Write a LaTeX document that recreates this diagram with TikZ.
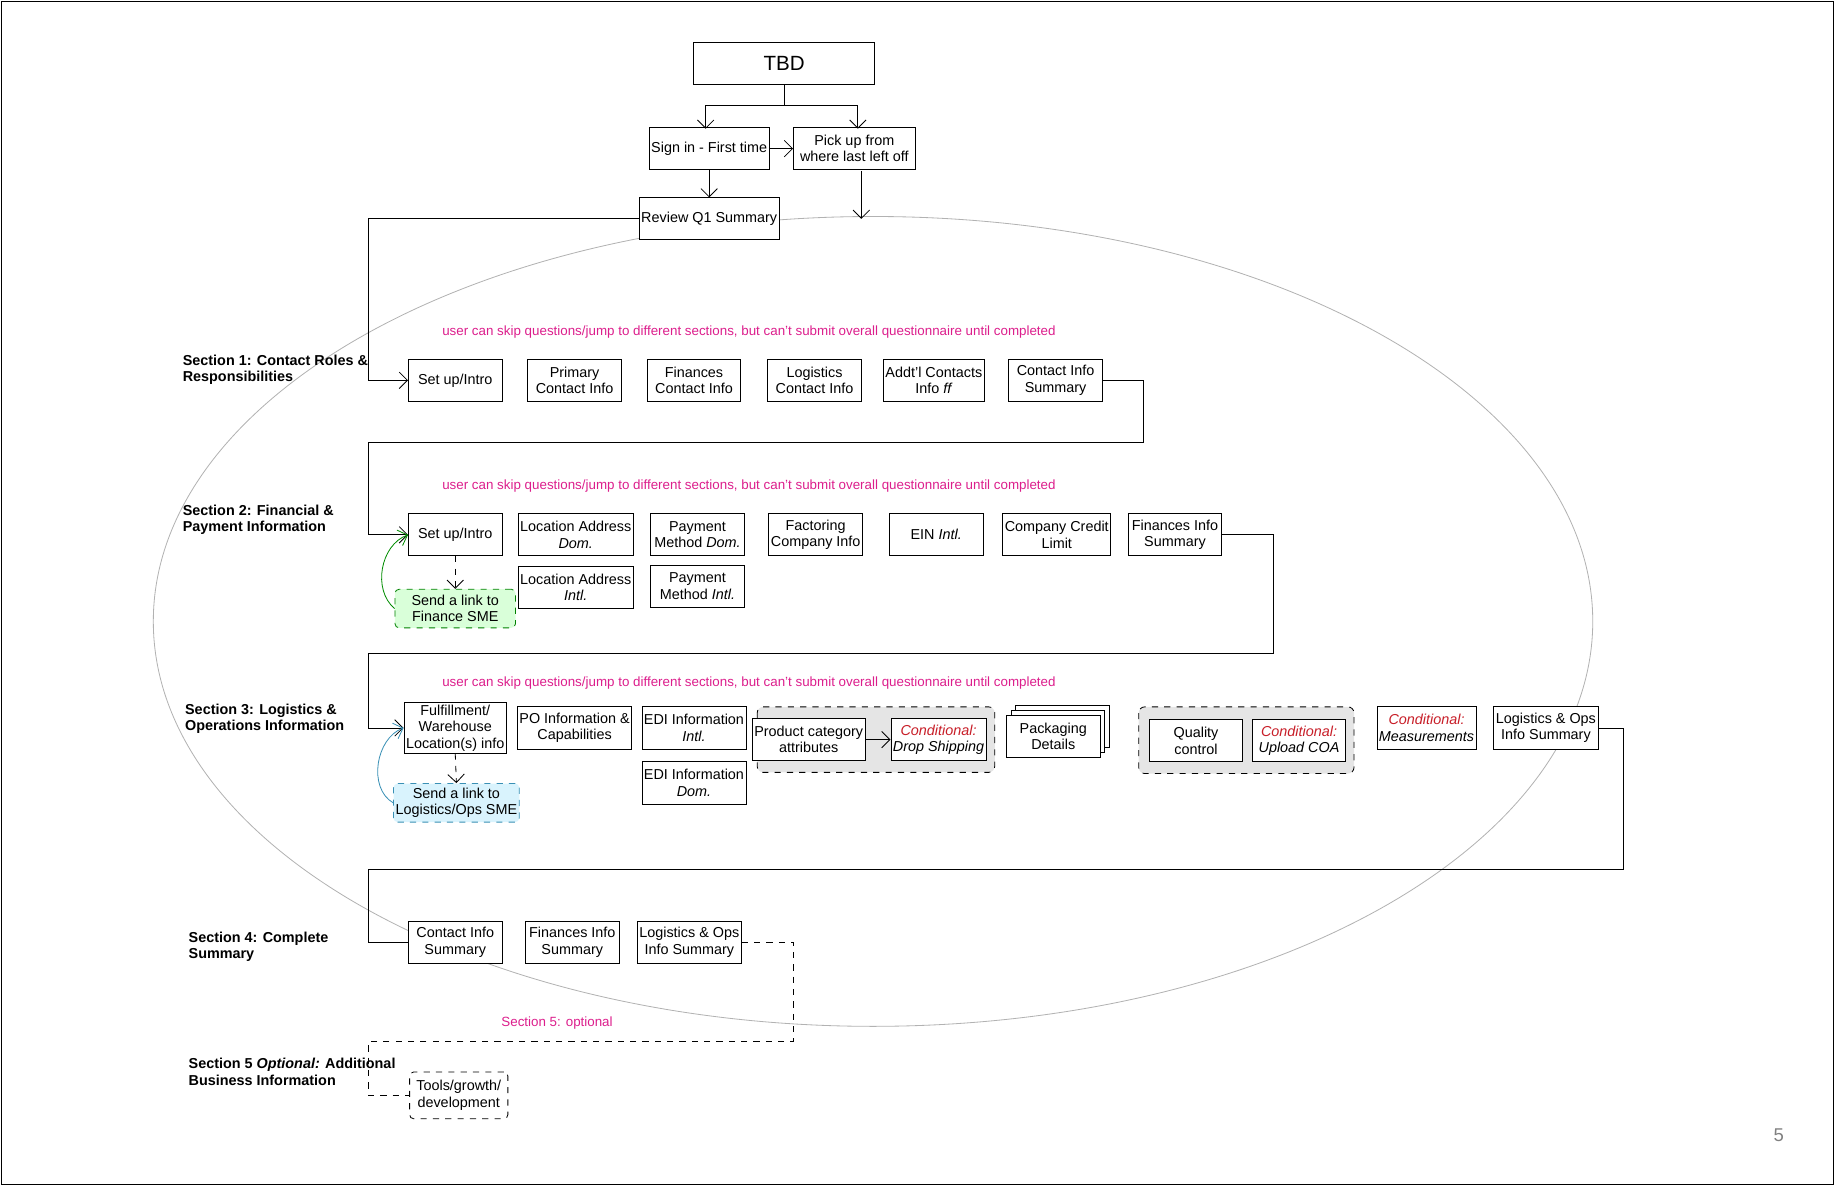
\documentclass[tikz,border=0pt]{standalone}
\usepackage{fontspec}
\setmainfont{Liberation Sans}
\usetikzlibrary{arrows.meta}
\definecolor{magtext}{RGB}{220,30,140}
\definecolor{condred}{RGB}{200,30,40}
\begin{document}
\begin{tikzpicture}[x=0.02cm, y=-0.02cm, >={Straight Barb[length=4pt]}, thin]
\tikzset{
  box/.style={draw, fill=white, minimum width=1.6cm, minimum height=0.72cm, inner sep=1pt, align=center, font=\fontsize{7}{8}\selectfont},
  smebox/.style={box, dashed, rounded corners=2pt, minimum width=2.06cm, minimum height=0.66cm},
  group/.style={draw, dashed, fill=gray!20, rounded corners=3pt},
  note/.style={text=magtext, font=\fontsize{6.5}{7}\selectfont},
  sect/.style={anchor=west, align=left, font=\bfseries\fontsize{7}{8}\selectfont},
  cond/.style={text=condred}
}
\useasboundingbox (0,0) rectangle (1568,1013);
\draw (1,1) rectangle (1567,1012);
% outer loop
\draw[gray!60] (746,531) ellipse [x radius=615, y radius=346];
% top
\node[box, minimum width=3.1cm, font=\fontsize{10}{12}\selectfont] (tbd) at (670,54) {TBD};
\node[box, minimum width=2.06cm] (signin) at (606,127) {Sign in - First time};
\node[box, minimum width=2.08cm] (pickup) at (730,127) {Pick up from\\where last left off};
\node[box, minimum width=2.06cm] (review) at (606,187) {Review Q1 Summary};
\coordinate (loopin) at (736,187);
\draw (tbd.south) -- (670,90) coordinate (split);
\draw[->] (split) -| (603,110);
\draw[->] (split) -| (733,110);
\draw[->] (signin) -- (pickup);
\draw[->] (signin.south) -- (review.north);
\draw[->] (736,146) -- (loopin);
% section labels
\node[sect] at (150,316) {Section 1: Contact Roles \&\\Responsibilities};
\node[sect] at (150,444) {Section 2: Financial \&\\Payment Information};
\node[sect] at (152,614) {Section 3: Logistics \&\\Operations Information};
\node[sect] at (155,809) {Section 4: Complete\\Summary};
\node[sect] at (155,916) {Section 5 \textit{Optional:} Additional\\Business Information};
% notes
\node[note] at (640,284) {user can skip questions/jump to different sections, but can't submit overall questionnaire until completed};
\node[note] at (640,415) {user can skip questions/jump to different sections, but can't submit overall questionnaire until completed};
\node[note] at (640,584) {user can skip questions/jump to different sections, but can't submit overall questionnaire until completed};
\node[note] at (476,874) {Section 5: optional};
% section 1
\node[box] (s1a) at (389,325) {Set up/Intro};
\node[box] (s1b) at (491,325) {Primary\\Contact Info};
\node[box] (s1c) at (593,325) {Finances\\Contact Info};
\node[box] (s1d) at (696,325) {Logistics\\Contact Info};
\node[box] (s1e) at (798,325) {Addt'l Contacts\\Info \textit{ff}};
\node[box] (s1f) at (902,325) {Contact Info\\Summary};
\draw[->] (review.west) -| (315,325) -- (s1a.west);
% section 2
\node[box] (s2a) at (389,457) {Set up/Intro};
\node[box] (s2b) at (492,457) {Location Address\\\textit{Dom.}};
\node[box] (s2c) at (596,457) {Payment\\Method \textit{Dom.}};
\node[box] (s2d) at (697,457) {Factoring\\Company Info};
\node[box] (s2e) at (800,457) {EIN \textit{Intl.}};
\node[box] (s2f) at (903,457) {Company Credit\\Limit};
\node[box] (s2g) at (1004,457) {Finances Info\\Summary};
\node[box] (s2h) at (492,502) {Location Address\\\textit{Intl.}};
\node[box] (s2i) at (596,501) {Payment\\Method \textit{Intl.}};
\node[smebox, draw=green!50!black, fill=green!15] (s2sme) at (389,520) {Send a link to\\Finance SME};
\draw[->] (s1f.east) -- (977,325) |- (315,378) |- (s2a.west);
\draw[->, dashed] (s2a.south) -- (s2sme.north);
\draw[->, green!55!black] (s2sme.west) to[out=140, in=200] (s2a.west);
% section 3
\node[box] (s3a) at (389,622) {Fulfillment/\\Warehouse\\Location(s) info};
\node[box] (s3b) at (491,622) {PO Information \&\\Capabilities};
\node[box] (s3c) at (593,622) {EDI Information\\\textit{Intl.}};
\node[box] (s3d) at (593,669) {EDI Information\\\textit{Dom.}};
\draw[group] (647,604) rectangle (850,660);
\node[box] (s3e) at (691,632) {Product category\\attributes};
\node[box] (s3f) at (802,632) {\textit{\textcolor{condred}{Conditional:}}\\\textit{Drop Shipping}};
\draw[->] (s3e) -- (s3f);
\draw[fill=white] (868,603) rectangle (948,639);
\draw[fill=white] (864,607) rectangle (944,643);
\node[box] (s3g) at (900,629) {Packaging\\Details};
\draw[group] (973,604) rectangle (1157,661);
\node[box] (s3h) at (1022,633) {Quality\\control};
\node[box] (s3i) at (1110,633) {\textit{\textcolor{condred}{Conditional:}}\\\textit{Upload COA}};
\node[box] (s3j) at (1219,622) {\textit{\textcolor{condred}{Conditional:}}\\\textit{Measurements}};
\node[box] (s3k) at (1321,622) {Logistics \& Ops\\Info Summary};
\node[smebox, draw=cyan!70!black, fill=cyan!15] (s3sme) at (390,686) {Send a link to\\Logistics/Ops SME};
\draw[->] (s2g.east) -- (1088,457) |- (315,558) |- (s3a.west);
\draw[->, dashed] (s3a.south) -- (s3sme.north);
\draw[->, cyan!70!black] (s3sme.west) to[out=150, in=200] (s3a.west);
% section 4
\node[box] (s4a) at (389,805) {Contact Info\\Summary};
\node[box] (s4b) at (489,805) {Finances Info\\Summary};
\node[box] (s4c) at (589,805) {Logistics \& Ops\\Info Summary};
\draw (s3k.east) -- (1387,622) |- (315,743) |- (s4a.west);
% section 5
\node[box, dashed, rounded corners=2pt, minimum width=1.68cm, minimum height=0.8cm] (s5a) at (392,936) {Tools/growth/\\development};
\draw[dashed] (s4c.east) -- (678,805) |- (315,890) |- (s5a.west);
% page number
\node[text=gray, font=\fontsize{9}{10}\selectfont] at (1520,970) {5};
\end{tikzpicture}
\end{document}
